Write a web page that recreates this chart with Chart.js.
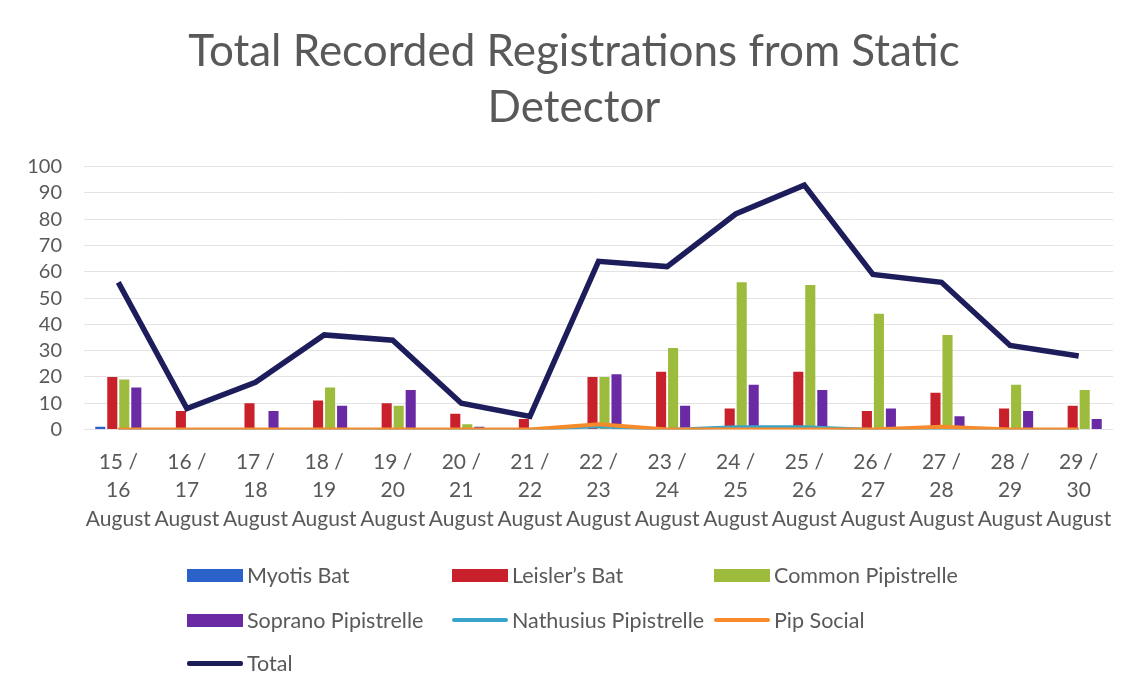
<!DOCTYPE html>
<html>
<head>
<meta charset="utf-8">
<script src="https://cdn.jsdelivr.net/npm/chart.js@4.4.1/dist/chart.umd.min.js"></script>
<style>
  html, body { margin: 0; padding: 0; background: #ffffff; }
  #wrap { position: relative; width: 1131px; height: 694px; }
  #chart { position: absolute; left: 0; top: 0; }
  #legend { position: absolute; left: 0; top: 0; width: 1131px; height: 694px; pointer-events: none;
            font-family: Lato, "Open Sans", sans-serif; font-size: 21.5px; color: #595959; }
  .item { position: absolute; display: flex; align-items: center; height: 24px; white-space: nowrap; }
  .swatch { width: 56px; margin-right: 4px; }
</style>
</head>
<body>
<div id="wrap">
  <canvas id="chart" width="1131" height="694"></canvas>
  <div id="legend"></div>
</div>
<script>
// Nights of recording (start / end day, August)
const nightStart = ["15", "16", "17", "18", "19", "20", "21", "22", "23", "24", "25", "26", "27", "28", "29"];
const nightEnd   = ["16", "17", "18", "19", "20", "21", "22", "23", "24", "25", "26", "27", "28", "29", "30"];
const monthName = "August";

// Registrations per species per night
const myotisBat       = [1, 0, 0, 0, 0, 0, 0, 0, 0, 0, 0, 0, 0, 0, 0];
const leislersBat     = [20, 7, 10, 11, 10, 6, 4, 20, 22, 8, 22, 7, 14, 8, 9];
const commonPip       = [19, 0, 0, 16, 9, 2, 0, 20, 31, 56, 55, 44, 36, 17, 15];
const sopranoPip      = [16, 0, 7, 9, 15, 1, 0, 21, 9, 17, 15, 8, 5, 7, 4];
const nathusiusPip    = [0, 0, 0, 0, 0, 0, 0, 1, 0, 1, 1, 0, 0, 0, 0];
const pipSocial       = [0, 0, 0, 0, 0, 0, 0, 2, 0, 0, 0, 0, 1, 0, 0];
const totalPerNight   = [56, 8, 18, 36, 34, 10, 5, 64, 62, 82, 93, 59, 56, 32, 28];

// Value axis ticks
const yMin = 0, yMax = 100, yStep = 10;

const labels = nightStart.map((s, i) => [s + " /", nightEnd[i], monthName]);

const TEXT = "#595959";
const FONT = "Lato, 'Open Sans', sans-serif";

const barCommon = { type: "bar", categoryPercentage: 0.7, barPercentage: 0.84, order: 3 };
const lineCommon = { type: "line", pointRadius: 0, pointHoverRadius: 0, tension: 0, fill: false };

const datasets = [
  { ...barCommon, label: "Myotis Bat", data: myotisBat, backgroundColor: "#2a62c9" },
  { ...barCommon, label: "Leisler\u2019s Bat", data: leislersBat, backgroundColor: "#c9212b" },
  { ...barCommon, label: "Common Pipistrelle", data: commonPip, backgroundColor: "#9dbb3c" },
  { ...barCommon, label: "Soprano Pipistrelle", data: sopranoPip, backgroundColor: "#6a2aa3" },
  { ...lineCommon, label: "Nathusius Pipistrelle", data: nathusiusPip, borderColor: "#39a4c9", borderWidth: 3, order: 2 },
  { ...lineCommon, label: "Pip Social", data: pipSocial, borderColor: "#f78b2b", borderWidth: 4, order: 1 },
  { ...lineCommon, label: "Total", data: totalPerNight, borderColor: "#1e1d5c", borderWidth: 5.5, order: 0 }
];

const PAD_LEFT = 35, PLOT_LEFT = 84, PLOT_BOTTOM = 429.5;

// Let the value-axis labels use the space of the left padding too
const widenLeftAxis = {
  id: "widenLeftAxis",
  afterLayout(chart) { chart.scales.y.left = 0; }
};

const chart = new Chart(document.getElementById("chart"), {
  data: { labels, datasets },
  plugins: [widenLeftAxis],
  options: {
    responsive: false,
    animation: false,
    devicePixelRatio: 1,
    layout: { padding: { top: 0, left: PAD_LEFT, right: 18, bottom: 0 } },
    plugins: {
      legend: { display: false },
      tooltip: { enabled: false },
      title: {
        display: true,
        text: ["Total Recorded Registrations from Static", "Detector"],
        color: TEXT,
        font: { family: FONT, size: 44, weight: "normal", lineHeight: 56 / 44 },
        padding: { top: 24, bottom: 30.7 }
      }
    },
    scales: {
      x: {
        grid: { display: false, drawTicks: false },
        border: { display: false },
        ticks: {
          color: TEXT, autoSkip: false, maxRotation: 0, minRotation: 0, padding: 18,
          font: { family: FONT, size: 21, lineHeight: 28.5 / 21 }
        },
        afterFit: (s) => { s.height = 694 - PLOT_BOTTOM; }
      },
      y: {
        min: yMin, max: yMax,
        grid: { color: "#e3e3e3", lineWidth: 1, drawTicks: false },
        border: { display: false },
        ticks: {
          stepSize: yStep, color: TEXT, padding: 22, autoSkip: false,
          font: { family: FONT, size: 20 }
        },
        afterFit: (s) => { s.width = PLOT_LEFT - PAD_LEFT; }
      }
    }
  }
});

// Legend in three columns below the plot, built from the chart's datasets
const legendSlots = [
  [187, 575], [452, 575], [714, 575],
  [187, 620], [452, 620], [714, 620],
  [187, 663]
];
const legendEl = document.getElementById("legend");
chart.data.datasets.forEach((ds, i) => {
  const [x, y] = legendSlots[i];
  const item = document.createElement("div");
  item.className = "item";
  item.style.left = x + "px";
  item.style.top = (y - 12) + "px";
  const sw = document.createElement("span");
  sw.className = "swatch";
  if (ds.type === "bar") {
    sw.style.height = "13px";
    sw.style.background = ds.backgroundColor;
  } else {
    sw.style.height = ds.label === "Total" ? "5px" : "4px";
    sw.style.background = ds.borderColor;
    sw.style.borderRadius = "2px";
  }
  const txt = document.createElement("span");
  txt.textContent = ds.label;
  item.appendChild(sw);
  item.appendChild(txt);
  legendEl.appendChild(item);
});
</script>
</body>
</html>
